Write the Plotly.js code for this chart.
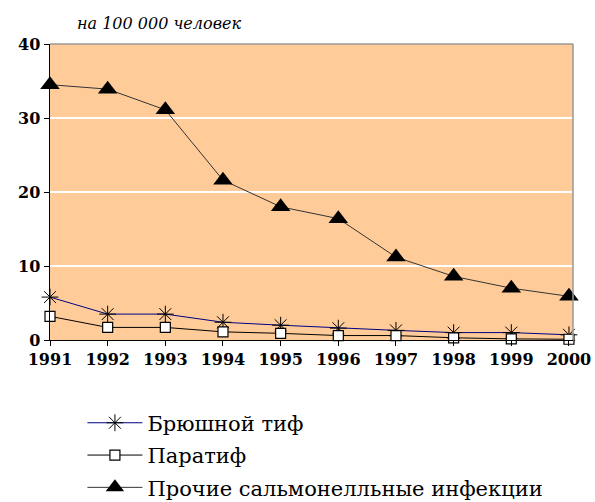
<!DOCTYPE html>
<html><head><meta charset="utf-8">
<script src="https://cdn.plot.ly/plotly-3.0.1.min.js"></script>
<style>body{margin:0;background:#fff}#c{width:595px;height:502px}</style>
</head><body><div id="c"></div>
<script>
var years = [1991,1992,1993,1994,1995,1996,1997,1998,1999,2000];
var typhoid = [5.8,3.5,3.5,2.4,2.0,1.6,1.3,1.0,1.0,0.7];
var paratyphoid = [3.2,1.7,1.7,1.1,0.9,0.6,0.6,0.3,0.15,0.1];
var salmonella = [34.5,33.9,31.1,21.6,18.0,16.4,11.2,8.6,7.0,5.9];
var names = ['Брюшной тиф','Паратиф','Прочие сальмонелльные инфекции'];
var yTicks = [0,10,20,30,40];

var SERIF = 'DejaVu Serif';
var traces = [
 {x:years,y:typhoid,name:names[0],mode:'lines+markers',legendgroup:'a',
  line:{color:'#000080',width:1},marker:{symbol:'asterisk-open',size:14,color:'#000',line:{color:'#000',width:1}},cliponaxis:false},
 {x:years,y:paratyphoid,name:names[1],mode:'lines+markers',legendgroup:'b',
  line:{color:'#000',width:1},marker:{symbol:'square',size:10,color:'#fff',line:{color:'#000',width:1.2}},cliponaxis:false},
 {x:years,y:salmonella,name:names[2],mode:'lines+markers',legendgroup:'c',
  line:{color:'#333',width:1},marker:{symbol:'triangle-up',size:17,color:'#000',line:{color:'#000',width:0}},cliponaxis:false}
];
var tf = {family:SERIF,size:16,color:'#000',weight:'bold'};
var layout = {
 width:595,height:502,margin:{l:50,r:22,t:44,b:162},
 paper_bgcolor:'#fff',plot_bgcolor:'#FFCC99',showlegend:true,
 xaxis:{range:[1991,2000.07],tickvals:years,ticktext:years.map(String),showgrid:false,zeroline:false,
  showline:true,linecolor:'#000',linewidth:1,ticks:'outside',ticklen:5,tickcolor:'#000',tickfont:tf},
 yaxis:{range:[0,40],tickvals:yTicks,showgrid:true,gridcolor:'#fff',gridwidth:1.5,zeroline:false,
  showline:true,linecolor:'#000',linewidth:1.5,ticks:'outside',ticklen:5,tickcolor:'#000',tickfont:tf},
 shapes:[
  {type:'line',xref:'paper',yref:'paper',x0:0,x1:1,y0:1,y1:1,line:{color:'#999',width:1.5}},
  {type:'line',xref:'paper',yref:'paper',x0:1,x1:1,y0:0,y1:1,line:{color:'#999',width:1.5}}
 ],
 annotations:[{text:'на 100 000 человек',xref:'paper',yref:'paper',x:0.048,y:1.03,xanchor:'left',yanchor:'bottom',
  showarrow:false,font:{family:SERIF,size:16,style:'italic',color:'#000'}}],
 legend:{xref:'paper',yref:'container',x:0.062,y:0.198,xanchor:'left',yanchor:'top',bgcolor:'rgba(0,0,0,0)',traceorder:'grouped',tracegroupgap:2,
  font:{family:SERIF,size:21,color:'#000'},itemwidth:55}
};
Plotly.newPlot('c',traces,layout,{displayModeBar:false,staticPlot:true});
</script></body></html>
